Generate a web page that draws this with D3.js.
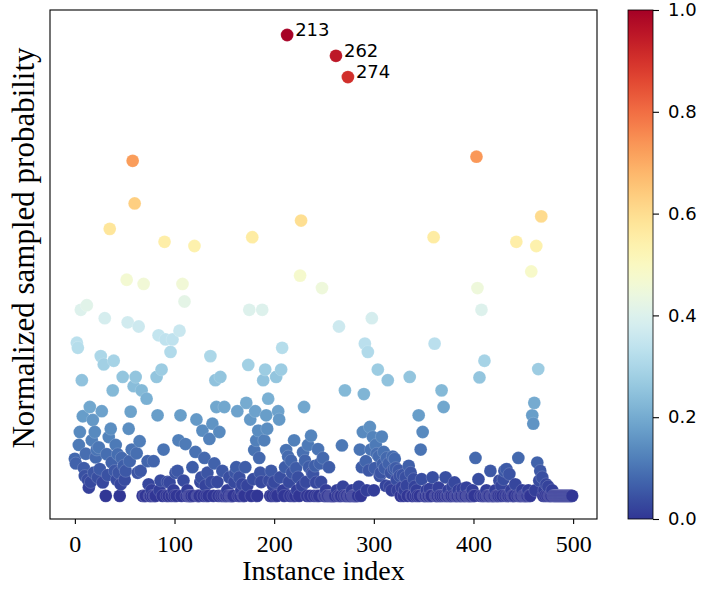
<!DOCTYPE html>
<html>
<head>
<meta charset="utf-8">
<script src="https://cdn.jsdelivr.net/npm/d3@7"></script>
<style>
  body { margin: 0; background: #fff; }
  .tick text { fill: #000; }
</style>
</head>
<body>
<div id="plot"></div>
<script>
// normalized sampled probability, one value per instance (index = position)
var probs = [
  0.080, 0.07, 0.331, 0.320, 0.11, 0.138, 0.402, 0.250, 0.172, 0.06,
  0.043, 0.091, 0.412, 0.035, 0.018, 0.192, 0.03, 0.12, 0.164, 0.05,
  0.138, 0.083, 0.10, 0.04, 0.105, 0.058, 0.302, 0.183, 0.029, 0.284,
  0.384, 0.0, 0.09, 0.045, 0.127, 0.577, 0.145, 0.072, 0.228, 0.292,
  0.054, 0.11, 0.035, 0.09, 0.05, 0.0, 0.025, 0.082, 0.257, 0.065,
  0.035, 0.054, 0.467, 0.375, 0.145, 0.075, 0.182, 0.10, 0.724, 0.237,
  0.632, 0.257, 0.092, 0.05, 0.366, 0.118, 0.054, 0.228, 0, 0.458,
  0, 0, 0.210, 0.075, 0.025, 0, 0, 0.012, 0, 0.075,
  0, 0, 0.257, 0.174, 0.347, 0.012, 0.033, 0.273, 0, 0.100,
  0.549, 0.338, 0, 0.03, 0, 0.029, 0.311, 0, 0.338, 0.012,
  0, 0.05, 0, 0.054, 0.120, 0.357, 0.174, 0, 0.458, 0.033,
  0.420, 0.112, 0, 0.012, 0, 0, 0, 0, 0.062, 0,
  0.540, 0.095, 0.165, 0, 0, 0, 0.03, 0.040, 0.141, 0,
  0.082, 0.022, 0, 0.05, 0, 0.123, 0.302, 0.03, 0.156, 0,
  0.07, 0.250, 0.192, 0.03, 0, 0.138, 0.257, 0, 0.054, 0,
  0.192, 0, 0, 0.012, 0, 0.040, 0, 0, 0, 0,
  0.03, 0.05, 0.062, 0.183, 0, 0.04, 0, 0.012, 0.025, 0,
  0, 0.062, 0.201, 0.022, 0.283, 0.402, 0.165, 0, 0.559, 0.036,
  0.099, 0.183, 0.120, 0, 0.141, 0.082, 0.05, 0.03, 0.402, 0.250,
  0.120, 0.273, 0.174, 0.145, 0.210, 0.033, 0, 0.054, 0, 0.022,
  0.03, 0, 0.257, 0, 0.183, 0.165, 0.040, 0.273, 0.320, 0.012,
  0, 0.062, 0.099, 0.996, 0.085, 0.03, 0, 0.076, 0.05, 0,
  0.120, 0, 0.06, 0.012, 0.04, 0, 0.476, 0.595, 0.022, 0.094,
  0.192, 0.076, 0.03, 0, 0.11, 0.062, 0, 0.130, 0.05, 0.047,
  0, 0.065, 0.029, 0, 0.101, 0, 0.07, 0.03, 0.449, 0.082,
  0, 0, 0.012, 0, 0, 0.062, 0, 0, 0, 0,
  0, 0, 0.951, 0.012, 0, 0.366, 0, 0, 0.109, 0.020,
  0, 0.228, 0, 0, 0.905, 0, 0, 0, 0.012, 0,
  0, 0, 0, 0, 0, 0.020, 0.100, 0, 0.062, 0.138,
  0.220, 0.329, 0.075, 0.012, 0.311, 0.055, 0.149, 0.100, 0.384, 0.127,
  0.012, 0.06, 0.11, 0.091, 0.273, 0.085, 0.043, 0.05, 0.128, 0.069,
  0.095, 0.06, 0.022, 0.082, 0.250, 0.07, 0.020, 0.05, 0.012, 0.085,
  0.058, 0.080, 0.06, 0.035, 0.012, 0.055, 0.043, 0, 0.018, 0.045,
  0, 0.012, 0.04, 0.022, 0, 0.065, 0.257, 0.05, 0, 0,
  0.036, 0.020, 0, 0.012, 0, 0.174, 0, 0.100, 0.036, 0.138,
  0, 0, 0, 0.012, 0, 0, 0.015, 0, 0, 0.040,
  0.559, 0.329, 0, 0, 0, 0.018, 0, 0, 0.228, 0,
  0.192, 0, 0.040, 0, 0, 0.012, 0, 0, 0, 0.020,
  0, 0.029, 0, 0, 0, 0.012, 0, 0, 0, 0.015,
  0, 0, 0, 0.018, 0, 0, 0, 0, 0, 0.012,
  0, 0, 0.082, 0.733, 0.449, 0.036, 0.256, 0, 0.402, 0,
  0, 0.292, 0, 0.012, 0, 0, 0, 0.054, 0, 0,
  0, 0, 0.012, 0, 0, 0, 0.033, 0, 0.022, 0,
  0.036, 0.054, 0, 0.058, 0, 0, 0.047, 0, 0.012, 0,
  0, 0, 0.025, 0.549, 0, 0.082, 0, 0, 0, 0.012,
  0, 0, 0, 0, 0, 0.012, 0, 0, 0.485, 0.174,
  0.156, 0.201, 0.012, 0.540, 0.072, 0.274, 0.033, 0.054, 0.604, 0.040,
  0, 0.012, 0, 0.025, 0, 0.020, 0, 0, 0, 0.012,
  0, 0, 0, 0, 0, 0, 0, 0, 0, 0,
  0, 0, 0, 0, 0, 0, 0, 0, 0, 0
];

// the instances that get a text label
var labeled = [213, 262, 274];

var xTicks = [0, 100, 200, 300, 400, 500];
var cbarTicks = [0, 0.2, 0.4, 0.6, 0.8, 1.0];

var W = 707, H = 589;
var plotBox = {l:50, r:597, t:10, b:519};
var cbarBox = {l:628, r:653, t:10, b:519};

var svg = d3.select('#plot')
  .append('svg')
  .attr('width', W)
  .attr('height', H);

var points = probs.map(function(p, i){ return {index:i, prob:p}; });

// matplotlib style 5% margins on both axes
var x = d3.scaleLinear().domain([-24.95, 523.95]).range([plotBox.l, plotBox.r]);
var y = d3.scaleLinear().domain([-0.05, 1.05]).range([plotBox.b, plotBox.t]);
var color = d3.scaleSequential(function(t){ return d3.interpolateRdYlBu(1 - t); }).domain([0, 1]);

var plot = svg.append('g').attr('class','plot');

plot.selectAll('circle')
  .data(points)
  .enter()
  .append('circle')
  .attr('cx', function(d){ return x(d.index); })
  .attr('cy', function(d){ return y(d.prob); })
  .attr('r', 6.4)
  .style('fill', function(d){ return color(d.prob); })
  .style('stroke', '#fff')
  .style('stroke-opacity', 0.5)
  .style('stroke-width', 0.3);

plot.selectAll('text.note')
  .data(points.filter(function(d){ return labeled.indexOf(d.index) >= 0; }))
  .enter()
  .append('text')
  .attr('class','note')
  .attr('x', function(d){ return x(d.index) + 8; })
  .attr('y', function(d){ return y(d.prob) + 1; })
  .style('font-family', 'DejaVu Sans')
  .style('font-size', '18px')
  .text(function(d){ return d.index; });

// frame
svg.append('rect')
  .attr('x', plotBox.l)
  .attr('y', plotBox.t)
  .attr('width', plotBox.r - plotBox.l)
  .attr('height', plotBox.b - plotBox.t)
  .style('fill', 'none')
  .style('stroke', '#000')
  .style('stroke-width', 1.1);

var xAxis = svg.append('g')
  .attr('transform', 'translate(0,' + plotBox.b + ')')
  .call(d3.axisBottom(x).tickValues(xTicks).tickSize(5).tickPadding(11));
xAxis.select('.domain').remove();
xAxis.selectAll('line').style('stroke', '#000').style('stroke-width', 1.1);
xAxis.selectAll('text')
  .style('font-family', 'Liberation Serif')
  .style('font-size', '24px');

svg.append('text')
  .attr('x', (plotBox.l + plotBox.r) / 2)
  .attr('y', 580)
  .attr('text-anchor', 'middle')
  .style('font-family', 'Liberation Serif')
  .style('font-size', '28px')
  .text('Instance index');

svg.append('text')
  .attr('transform', 'translate(34,248) rotate(-90)')
  .attr('text-anchor', 'middle')
  .style('font-family', 'Liberation Serif')
  .style('font-size', '31px')
  .text('Normalized sampled probability');

// colorbar
var grad = svg.append('defs')
  .append('linearGradient')
  .attr('id', 'cbar')
  .attr('x1', 0).attr('y1', 1)
  .attr('x2', 0).attr('y2', 0);
d3.range(0, 1.0001, 0.02).forEach(function(t){
  grad.append('stop')
    .attr('offset', t)
    .attr('stop-color', color(t));
});

svg.append('rect')
  .attr('x', cbarBox.l)
  .attr('y', cbarBox.t)
  .attr('width', cbarBox.r - cbarBox.l)
  .attr('height', cbarBox.b - cbarBox.t)
  .style('fill', 'url(#cbar)')
  .style('stroke', '#000')
  .style('stroke-width', 0.8);

var c = d3.scaleLinear().domain([0, 1]).range([cbarBox.b, cbarBox.t]);
var cAxis = svg.append('g')
  .attr('transform', 'translate(' + cbarBox.r + ',0)')
  .call(d3.axisRight(c).tickValues(cbarTicks).tickSize(6).tickPadding(9).tickFormat(d3.format('.1f')));
cAxis.select('.domain').remove();
cAxis.selectAll('line').style('stroke', '#000').style('stroke-width', 1.1);
cAxis.selectAll('text')
  .style('font-family', 'DejaVu Sans')
  .style('font-size', '18px');
</script>
</body>
</html>
